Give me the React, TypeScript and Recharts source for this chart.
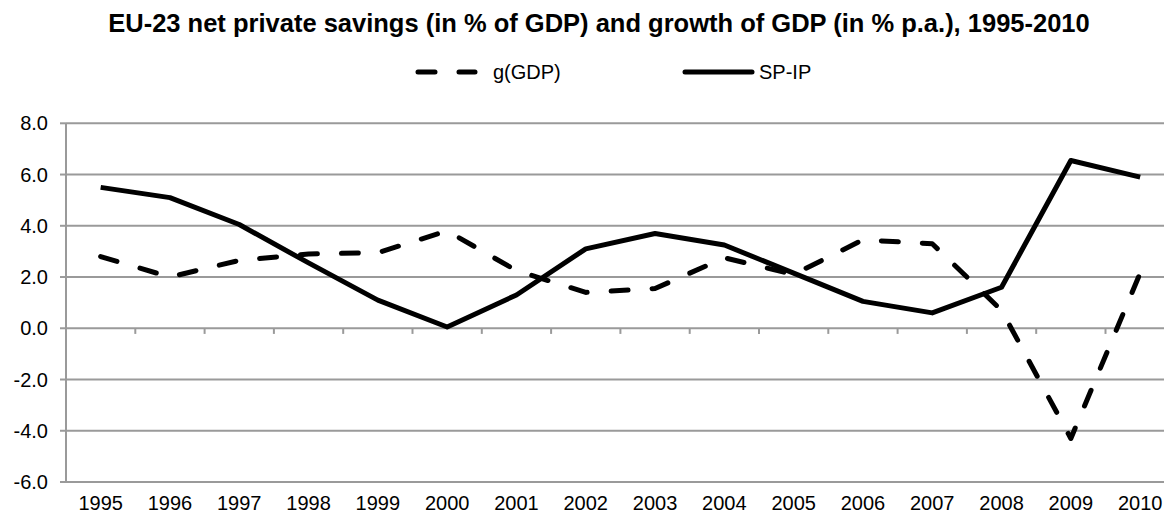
import React from 'react';
import { LineChart, Line, XAxis, YAxis, CartesianGrid, Legend, ReferenceLine } from 'recharts';

const years = ['1995', '1996', '1997', '1998', '1999', '2000', '2001', '2002', '2003', '2004', '2005', '2006', '2007', '2008', '2009', '2010'];
const gGdp = [2.8, 2.0, 2.65, 2.9, 2.95, 3.8, 2.25, 1.4, 1.55, 2.75, 2.1, 3.45, 3.3, 0.7, -4.3, 2.15];
const spIp = [5.5, 5.1, 4.05, 2.55, 1.1, 0.05, 1.3, 3.1, 3.7, 3.25, 2.15, 1.05, 0.6, 1.6, 6.55, 5.9];
const yTicks = [-6, -4, -2, 0, 2, 4, 6, 8];

// lines sit in the middle of each year slot, so x runs 0..16
const data = years.map((year, i) => ({ x: i + 0.5, year, g: gGdp[i], sp: spIp[i] }));
const slotCenters = data.map((d) => d.x);
const slotEdges = Array.from({ length: years.length + 1 }, (_, i) => i);

const GRID = '#9a9a9a';
const LEGEND_H = 30;

function LegendBox() {
  return (
    <svg width={1164} height={LEGEND_H} style={{ display: 'block' }}>
      <line x1={418} y1={12} x2={475} y2={12} stroke="#000" strokeWidth={5} strokeLinecap="round" strokeDasharray="17 24" />
      <text x={493} y={19} fontSize={20} fill="#000">g(GDP)</text>
      <line x1={685} y1={12} x2={752} y2={12} stroke="#000" strokeWidth={5} strokeLinecap="round" />
      <text x={759} y={19} fontSize={20} fill="#000">SP-IP</text>
    </svg>
  );
}

export default function App() {
  return (
    <div
      style={{
        position: 'absolute',
        top: 0,
        left: 0,
        width: 1164,
        height: 515,
        overflow: 'hidden',
        background: '#fff',
        fontFamily: '"Liberation Sans", Arial, sans-serif',
      }}
    >
      <div
        style={{
          position: 'absolute',
          top: 11,
          left: 0,
          width: 1198,
          textAlign: 'center',
          fontSize: 25.5,
          lineHeight: 1,
          fontWeight: 'bold',
          color: '#000',
          whiteSpace: 'nowrap',
        }}
      >
        EU-23 net private savings (in % of GDP) and growth of GDP (in % p.a.), 1995-2010
      </div>
      {/* the top legend adds its own height to the plot offset */}
      <LineChart width={1200} height={515} data={data} margin={{ top: 123.3 - LEGEND_H, right: 25.2, bottom: 0, left: 0 }}>
        <CartesianGrid vertical={false} stroke={GRID} strokeWidth={2} />
        <XAxis
          dataKey="x"
          type="number"
          domain={[0, 16]}
          ticks={slotCenters}
          tickFormatter={(v: number) => years[Math.floor(v)]}
          axisLine={false}
          tickLine={false}
          tickSize={6}
          tickMargin={8}
          height={33}
          interval={0}
          tick={{ fill: '#000', fontSize: 20 }}
        />
        <YAxis
          type="number"
          domain={[-6, 8]}
          ticks={yTicks}
          tickFormatter={(v: number) => v.toFixed(1)}
          width={66}
          axisLine={{ stroke: GRID, strokeWidth: 2 }}
          tickLine={{ stroke: GRID, strokeWidth: 2 }}
          tickSize={6}
          tickMargin={12}
          tick={{ fill: '#000', fontSize: 20 }}
        />
        {slotEdges.map((e) => (
          <ReferenceLine
            key={e}
            segment={[{ x: e, y: 0 }, { x: e, y: -0.22 }]}
            stroke={GRID}
            strokeWidth={2}
          />
        ))}
        <Legend verticalAlign="top" wrapperStyle={{ top: 60, left: 0, width: 1164 }} content={() => <LegendBox />} />
        <Line
          dataKey="g"
          name="g(GDP)"
          stroke="#000"
          strokeWidth={5}
          strokeDasharray="17 24"
          strokeLinecap="round"
          strokeLinejoin="round"
          dot={false}
          activeDot={false}
          isAnimationActive={false}
        />
        <Line
          dataKey="sp"
          name="SP-IP"
          stroke="#000"
          strokeWidth={5}
          strokeLinejoin="round"
          dot={false}
          activeDot={false}
          isAnimationActive={false}
        />
      </LineChart>
    </div>
  );
}
